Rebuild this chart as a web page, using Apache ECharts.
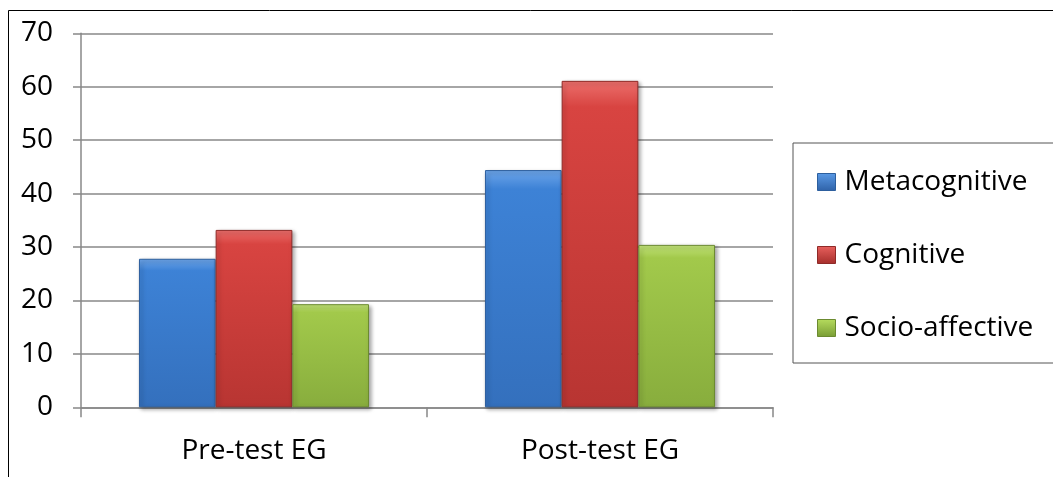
<!DOCTYPE html>
<html>
<head>
<meta charset="utf-8">
<script src="https://cdn.jsdelivr.net/npm/echarts@6/dist/echarts.min.js"></script>
<style>
html,body{margin:0;padding:0;background:#fff;}
#chart{width:1053px;height:477px;}
</style>
</head>
<body>
<div id="chart"></div>
<script>
var categories = ['Pre-test EG', 'Post-test EG'];
var seriesNames = ['Metacognitive', 'Cognitive', 'Socio-affective'];
var metacognitive = [27.8, 44.4];
var cognitive = [33.2, 61.1];
var socioAffective = [19.3, 30.4];
var yTicks = [0, 10, 20, 30, 40, 50, 60, 70];

var FONT = '"Open Sans"';
var FS = 28;
function grad(top, mid, bottom) {
  return new echarts.graphic.LinearGradient(0, 0, 0, 1, [
    {offset: 0, color: top}, {offset: 0.08, color: mid}, {offset: 1, color: bottom}
  ]);
}
function legendGrad(top, bottom) {
  return new echarts.graphic.LinearGradient(0, 0, 0, 1, [
    {offset: 0, color: top}, {offset: 1, color: bottom}
  ]);
}
var colors = [
  {fill: grad('#6ea6ea', '#3d82d6', '#3470bd'), border: '#2d5f9e', legend: legendGrad('#5a9ae6', '#2f62a8')},
  {fill: grad('#ec6f6c', '#d84441', '#b83532'), border: '#8f2a28', legend: legendGrad('#e8605d', '#a52e2b')},
  {fill: grad('#c3e47a', '#a2c94b', '#88ad3d'), border: '#6b8a30', legend: legendGrad('#b6dc5e', '#789c34')}
];
var data = [metacognitive, cognitive, socioAffective];

var chart = echarts.init(document.getElementById('chart'), null, {renderer: 'canvas'});
chart.setOption({
  animation: false,
  textStyle: {fontFamily: FONT},
  graphic: [
    {type: 'polyline', shape: {points: [[8.5, 477], [8.5, 10.5], [1053, 10.5]]},
     style: {stroke: '#000', lineWidth: 1, fill: null}, z: 0}
  ],
  grid: {left: 81, right: 280, top: 33.3, bottom: 69.7},
  legend: {
    orient: 'vertical',
    left: 793, top: 143,
    padding: [25, 40, 21, 24],
    itemGap: 45,
    itemWidth: 18, itemHeight: 17,
    borderColor: '#555', borderWidth: 1,
    textStyle: {fontSize: FS, color: '#000', fontFamily: FONT, padding: [0, 0, 0, 4]},
    data: seriesNames.map(function (n, i) {
      return {name: n, icon: 'rect', itemStyle: {color: colors[i].legend, borderColor: colors[i].border, borderWidth: 1}};
    })
  },
  xAxis: {
    type: 'category',
    data: categories,
    axisLine: {lineStyle: {color: '#888', width: 1.5}},
    axisTick: {show: true, length: 10, lineStyle: {color: '#888', width: 1.5}},
    axisLabel: {fontSize: FS, color: '#000', margin: 30, fontFamily: FONT}
  },
  yAxis: {
    type: 'value',
    min: 0, max: 70, interval: 10,
    axisLine: {show: true, lineStyle: {color: '#888', width: 1.5}},
    axisTick: {show: true, length: 8, lineStyle: {color: '#888', width: 1.5}},
    splitLine: {lineStyle: {color: '#888', width: 1.5}},
    axisLabel: {fontSize: FS, color: '#000', margin: 28, fontFamily: FONT,
      formatter: function (v) { return yTicks.indexOf(v) >= 0 ? String(v) : ''; }}
  },
  series: seriesNames.map(function (n, i) {
    return {
      name: n, type: 'bar', data: data[i],
      barGap: '0%', barCategoryGap: '33.5%',
      itemStyle: {color: colors[i].fill, borderColor: colors[i].border, borderWidth: 1,
        shadowBlur: 4, shadowColor: 'rgba(0,0,0,0.35)', shadowOffsetX: 2, shadowOffsetY: 2}
    };
  })
});
</script>
</body>
</html>
